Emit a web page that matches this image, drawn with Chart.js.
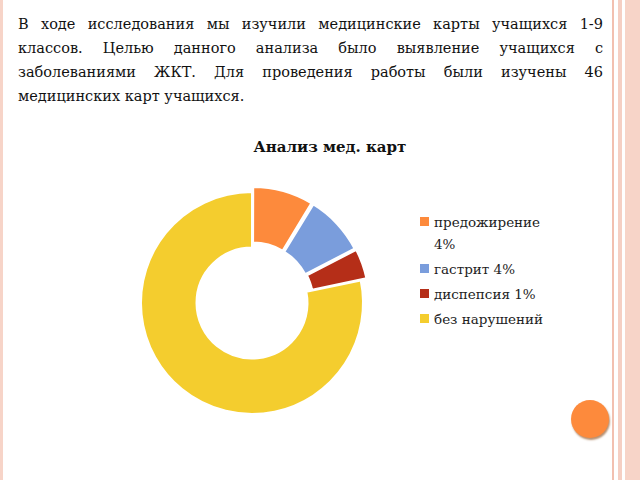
<!DOCTYPE html>
<html>
<head>
<meta charset="utf-8">
<script src="https://cdn.jsdelivr.net/npm/chart.js@4"></script>
<style>
  body { margin: 0; width: 640px; height: 480px; background: #fff; position: relative; overflow: hidden; font-family: "DejaVu Serif", serif; }
  .stripe { position: absolute; top: 0; height: 480px; background: #f2c0b0; }
  #intro { position: absolute; left: 18px; top: 12px; width: 585px; font-size: 14.5px; line-height: 24px; text-align: justify; color: #111; }
  #title { position: absolute; left: 180px; width: 300px; top: 138px; text-align: center; font-weight: bold; font-size: 15px; color: #111; }
  #wrap { position: absolute; left: 133px; top: 184px; width: 238px; height: 238px; }
  #legend { position: absolute; left: 420px; top: 211px; font-size: 13.5px; color: #222; line-height: 22px; }
  #legend div { margin-bottom: 3px; padding-left: 14px; position: relative; }
  #legend span { position: absolute; left: 0; top: 6px; width: 9px; height: 9px; }
  #dot { position: absolute; left: 571px; top: 400px; width: 38px; height: 38px; border-radius: 50%; background: #fd8a3c; box-shadow: 1px 2px 2px #b89070; }
</style>
</head>
<body>
<div class="stripe" style="left:612px;width:2px"></div>
<div class="stripe" style="left:618px;width:4px;background:#f5cfc3"></div>
<div class="stripe" style="left:625px;width:15px;background:#f7d4c8"></div>
<div class="stripe" style="left:0;width:3px;background:#f7d4c8"></div>
<div id="intro">В ходе исследования мы изучили медицинские карты учащихся 1-9 классов. Целью данного анализа было выявление учащихся с заболеваниями ЖКТ. Для проведения работы были изучены 46 медицинских карт учащихся.</div>
<div id="title">Анализ мед. карт</div>
<div id="wrap"><canvas id="pie"></canvas></div>
<div id="legend"></div>
<div id="dot"></div>
<script>
// Legend labels and slice values (cards out of 46)
const labels = ["предожирение 4%", "гастрит 4%", "диспепсия 1%", "без нарушений"];
const values = [4, 4, 2, 36];
const colors = ["#fd8a3c", "#7a9ddc", "#b52e18", "#f4cd2e"];
const offsets = [14, 14, 14, 0];

new Chart(document.getElementById('pie'), {
  type: 'doughnut',
  data: {
    labels: labels,
    datasets: [{
      data: values,
      backgroundColor: colors,
      borderColor: '#ffffff',
      borderWidth: 2,
      offset: offsets
    }]
  },
  options: {
    responsive: true,
    maintainAspectRatio: false,
    animation: false,
    cutout: '50%',
    plugins: { legend: { display: false }, tooltip: { enabled: false } }
  }
});

// HTML legend so the long label can wrap like the original
const legend = document.getElementById('legend');
labels.forEach((text, i) => {
  const item = document.createElement('div');
  const box = document.createElement('span');
  box.style.background = colors[i];
  item.appendChild(box);
  item.appendChild(document.createTextNode(i === 0 ? 'предожирение' : text));
  if (i === 0) {
    item.appendChild(document.createElement('br'));
    item.appendChild(document.createTextNode('4%'));
  }
  legend.appendChild(item);
});
</script>
</body>
</html>
